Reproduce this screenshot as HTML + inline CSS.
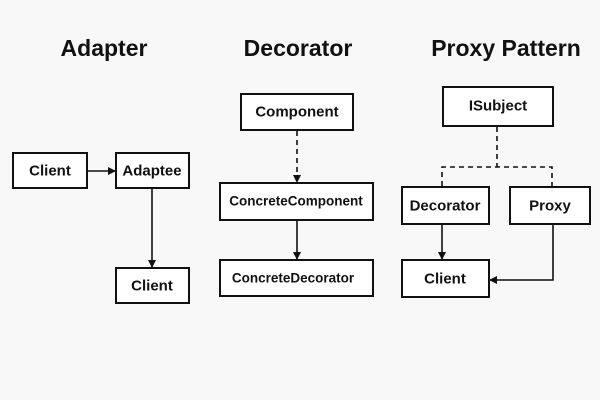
<!DOCTYPE html>
<html><head><meta charset="utf-8"><style>
html,body{margin:0;padding:0;background:#f8f8f8;}
svg{display:block;}
text{font-family:"Liberation Sans",sans-serif;fill:#111;}
.t{font-size:23px;font-weight:bold;text-anchor:middle;}
.n{font-size:15px;font-weight:bold;text-anchor:middle;dominant-baseline:central;}
rect{fill:#fff;stroke:#111;stroke-width:2;}
line,polyline{stroke:#111;stroke-width:1.6;fill:none;}
.d{stroke-dasharray:5,4;}
</style></head><body>
<svg width="600" height="400" viewBox="0 0 600 400">
<defs><marker id="a" markerWidth="8" markerHeight="8" refX="7" refY="4" orient="auto" markerUnits="userSpaceOnUse"><path d="M0,0 L8,4 L0,8 z" fill="#111"/></marker></defs>
<text class="t" x="104" y="56">Adapter</text>
<text class="t" x="298" y="56">Decorator</text>
<text class="t" x="506" y="56">Proxy Pattern</text>

<rect x="13" y="153" width="74" height="35"/><text class="n" x="50" y="171">Client</text>
<rect x="116" y="153" width="73" height="35"/><text class="n" x="152" y="171">Adaptee</text>
<rect x="116" y="268" width="73" height="35"/><text class="n" x="152" y="286">Client</text>
<line x1="88" y1="171" x2="115" y2="171" marker-end="url(#a)"/>
<line x1="152" y1="189" x2="152" y2="267" marker-end="url(#a)"/>

<rect x="241" y="94" width="112" height="36"/><text class="n" x="297" y="112">Component</text>
<rect x="220" y="183" width="153" height="37"/><text class="n" x="296" y="201" style="font-size:13.5px">ConcreteComponent</text>
<rect x="220" y="260" width="153" height="36"/><text class="n" x="293" y="278" style="font-size:13.5px">ConcreteDecorator</text>
<line class="d" x1="297" y1="131" x2="297" y2="182" marker-end="url(#a)"/>
<line x1="297" y1="221" x2="297" y2="259" marker-end="url(#a)"/>

<rect x="443" y="87" width="110" height="39"/><text class="n" x="498" y="106">ISubject</text>
<rect x="402" y="187" width="87" height="37"/><text class="n" x="445" y="206">Decorator</text>
<rect x="510" y="187" width="80" height="37"/><text class="n" x="550" y="206">Proxy</text>
<rect x="402" y="260" width="87" height="37"/><text class="n" x="445" y="279">Client</text>
<line class="d" x1="497" y1="127" x2="497" y2="167"/>
<polyline class="d" points="442,186 442,167 552,167 552,186"/>
<line x1="442" y1="225" x2="442" y2="259" marker-end="url(#a)"/>
<polyline points="553,225 553,280 490,280" marker-end="url(#a)"/>
</svg>
</body></html>
